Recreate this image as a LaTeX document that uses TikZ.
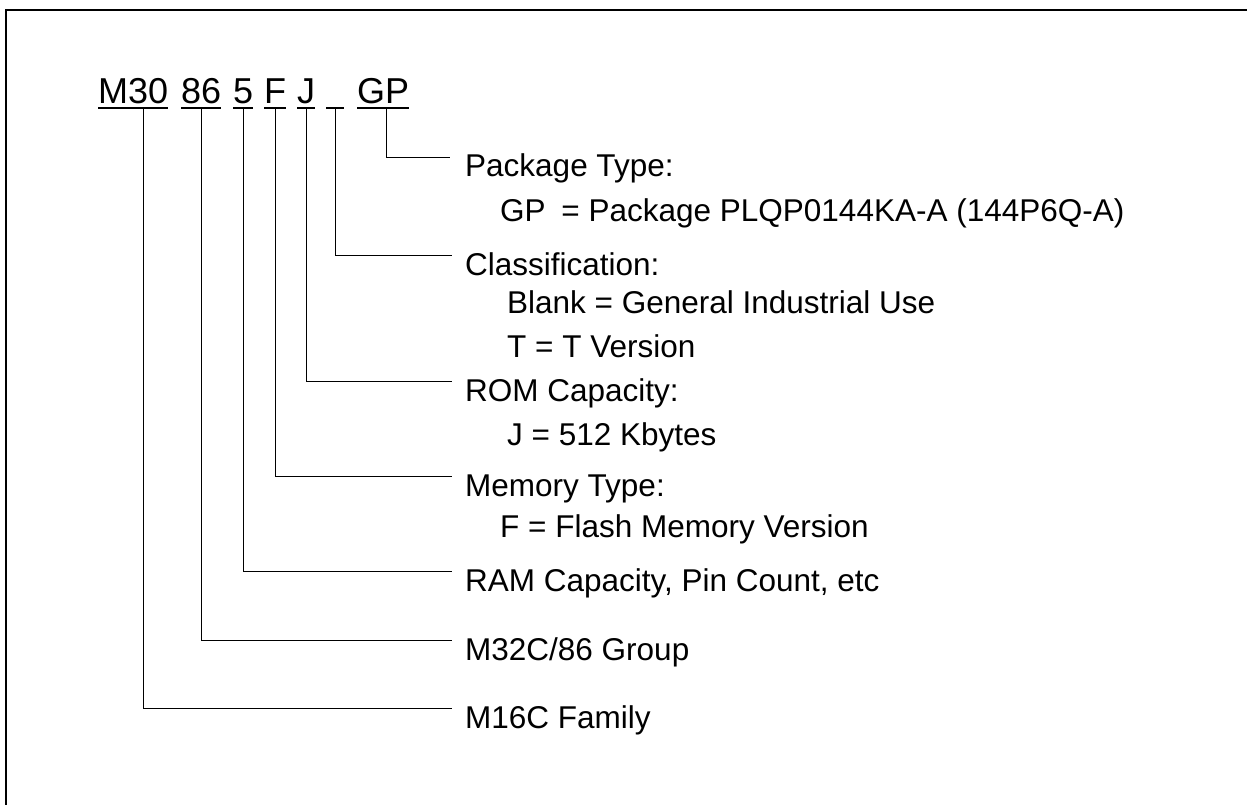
\documentclass[tikz,border=0pt]{standalone}
\usepackage{fontspec}
\setmainfont{Liberation Sans}
\usetikzlibrary{positioning}

\begin{document}
\begin{tikzpicture}[x=1pt, y=-1pt,
  seg/.style={inner sep=0pt, anchor=base west, font=\fontsize{36}{40}\selectfont},
  head/.style={inner sep=0pt, anchor=base west, font=\fontsize{31.5}{36}\selectfont},
  sub/.style={head},
  lead/.style={line width=0.8pt},
  uline/.style={line width=2pt}]
  \useasboundingbox (0,0) rectangle (1247,805);
  % frame, only top and left edges are shown
  \draw[line width=2pt] (6,805) -- (6,10) -- (1247,10);

  % part number
  \node[seg] (fam) at (98,104) {M30};
  \node[seg] (grp) at (181,104) {86};
  \node[seg] (ram) at (233,104) {5};
  \node[seg] (mem) at (264,104) {F};
  \node[seg] (rom) at (297,104) {J};
  \node[seg, minimum width=18pt] (cls) at (326,104) {};
  \node[seg] (pkg) at (357,104) {GP};
  \foreach \n in {fam,grp,ram,mem,rom,cls,pkg}
    \draw[uline] ([yshift=-4pt]\n.base west) -- ([yshift=-4pt]\n.base east);

  % descriptions
  \node[head] (pkgL) at (465,177) {Package Type:};
  \node[sub] (pkgG) at (500,222) {GP\hspace{.5em}= Package PLQP0144KA-A (144P6Q-A)};
  \node[head] (clsL) at (465,275) {Classification:};
  \node[sub] (clsB) at (507,313) {Blank = General Industrial Use};
  \node[sub] (clsT) at (507,357) {T = T Version};
  \node[head] (romL) at (465,401) {ROM Capacity:};
  \node[sub] (romJ) at (507,445) {J = 512 Kbytes};
  \node[head] (memL) at (465,496) {Memory Type:};
  \node[sub] (memF) at (500,537) {F = Flash Memory Version};
  \node[head] (ramL) at (465,591) {RAM Capacity, Pin Count, etc};
  \node[head] (grpL) at (465,660) {M32C/86 Group};
  \node[head] (famL) at (465,728) {M16C Family};

  % leaders
  \foreach \s/\l in {grp/grpL, ram/ramL, mem/memL, rom/romL, cls/clsL}
    \draw[lead] ([yshift=-4pt]\s.base) |- ([xshift=-13pt,yshift=20pt]\l.base west);
  \draw[lead] ([xshift=10.5pt,yshift=-4pt]fam.base) |- ([xshift=-13pt,yshift=20pt]famL.base west);
  \draw[lead] ([xshift=3.5pt,yshift=-4pt]pkg.base) |- ([xshift=-15pt,yshift=20pt]pkgL.base west);
\end{tikzpicture}
\end{document}
